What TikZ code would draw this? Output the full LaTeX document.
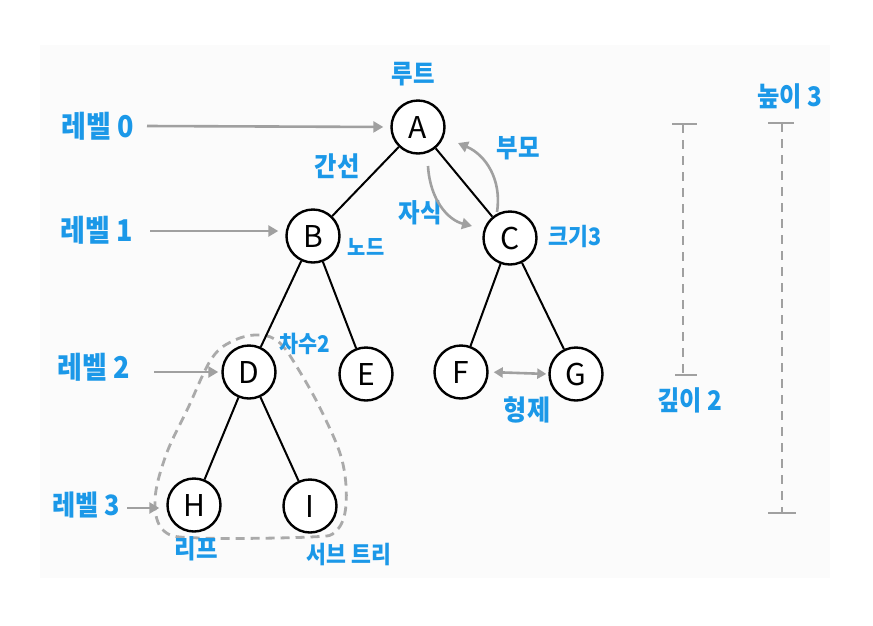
\documentclass[tikz,border=0pt]{standalone}
\usepackage{fontspec}
\setmainfont{Noto Sans CJK KR}
\newfontfamily\krs{Noto Sans CJK KR}[FakeStretch=0.9]
\usetikzlibrary{arrows.meta}
\definecolor{lblue}{RGB}{27,152,232}
\definecolor{arrgray}{RGB}{160,160,160}
\definecolor{bgcol}{RGB}{251,251,251}
\newcommand{\fs}[1]{\krs\bfseries\fontsize{#1}{#1}\selectfont}
\tikzset{
  tnode/.style={circle, draw=black, line width=2.4pt, minimum size=53pt, inner sep=0pt, fill=white, font=\fontsize{30}{30}\selectfont},
  lbl/.style={text=lblue, inner sep=0pt, font=\fs{26}},
  edge/.style={draw=black, line width=2pt},
  garrow/.style={draw=arrgray, line width=2.6pt, -{Triangle[length=10pt,width=11pt]}},
  gdash/.style={draw=arrgray, line width=2.4pt, dash pattern=on 9pt off 7pt},
  capline/.style={draw=arrgray, line width=2.4pt},
}
\begin{document}
\begin{tikzpicture}[x=1pt,y=-1pt]
\useasboundingbox (0,0) rectangle (873,625);
\fill[white] (0,0) rectangle (873,625);
\fill[bgcol] (40,45) rectangle (830,578);

% subtree outline
\draw[draw=arrgray!90, line width=2.8pt, dash pattern=on 9pt off 6pt]
  plot[smooth cycle, tension=0.6] coordinates {(260,335) (280,343) (300,372) (322,412) (342,460) (346,505) (336,531) (310,537) (200,538) (164,531) (155,500) (166,455) (188,408) (212,358) (235,340)};

% tree nodes
\node[tnode] (A) at (418,127) {A};
\node[tnode] (B) at (313,236) {B};
\node[tnode] (C) at (510,238) {C};
\node[tnode] (D) at (249,372) {D};
\node[tnode] (E) at (366,374) {E};
\node[tnode] (F) at (461,372) {F};
\node[tnode] (G) at (576,374) {G};
\node[tnode] (H) at (194,505) {H};
\node[tnode] (I) at (310,506) {I};

\draw[edge] (A) -- (B);
\draw[edge] (A) -- (C);
\draw[edge] (B) -- (D);
\draw[edge] (B) -- (E);
\draw[edge] (C) -- (F);
\draw[edge] (C) -- (G);
\draw[edge] (D) -- (H);
\draw[edge] (D) -- (I);

% labels
\node[lbl] (root) at (413,74) {루트};
\node[lbl, font=\fs{30}] (l0) at (98,126) {레벨 0};
\node[lbl, font=\fs{30}] (l1) at (97,230) {레벨 1};
\node[lbl, font=\fs{30}] (l2) at (94,367) {레벨 2};
\node[lbl, font=\fs{28}] (l3) at (86,505) {레벨 3};
\node[lbl, font=\fs{27}] (edgel) at (337,166) {간선};
\node[lbl, font=\fs{22}] (nodel) at (366,247) {노드};
\node[lbl] (parent) at (518,148) {부모};
\node[lbl] (child) at (420,213) {자식};
\node[lbl, font=\fs{24}] (size) at (575,236) {크기3};
\node[lbl, font=\fs{23}] (deg) at (305,344) {차수2};
\node[lbl, font=\fs{28}] (sib) at (527,410) {형제};
\node[lbl] (leaf) at (196,549) {리프};
\node[lbl, font=\fs{24}] (sub) at (349,555) {서브 트리};
\node[lbl, font=\fs{27}] (depth) at (690,400) {깊이 2};
\node[lbl, font=\fs{27}] (height) at (790,96) {높이 3};

% level arrows
\coordinate (s0) at (147,126);
\coordinate (s1) at (150,231);
\coordinate (s2) at (154,372);
\coordinate (s3) at (127,508);
\draw[garrow, shorten >=7pt] (s0) -- (A.west);
\draw[garrow, shorten >=7pt] (s1) -- ([yshift=5pt]B.west);
\draw[garrow, shorten >=3pt] (s2) -- (D.west);
\draw[garrow, shorten >=7pt] (s3) -- ([yshift=-3pt]H.west);

% parent / child arrows
\coordinate (pc) at (497,212);
\coordinate (pa) at (458,143);
\coordinate (ca) at (428,166);
\coordinate (cc) at (472,226);
\draw[garrow] (pc) .. controls (502,180) and (486,155) .. (pa);
\draw[garrow] (ca) .. controls (430,200) and (448,220) .. (cc);

% sibling arrow
\draw[draw=arrgray, line width=2.6pt, {Triangle[length=9pt,width=10pt]}-{Triangle[length=9pt,width=10pt]}, shorten <=5pt, shorten >=2pt] (F.east) -- (G.west);

% depth bar
\draw[capline] (672,124) -- (697,124);
\draw[gdash] (683,124) -- (683,375);
\draw[capline] (675,375) -- (697,375);

% height bar
\draw[capline] (768,123) -- (794,123);
\draw[gdash] (782,123) -- (782,513);
\draw[capline] (768,513) -- (796,513);
\end{tikzpicture}
\end{document}
